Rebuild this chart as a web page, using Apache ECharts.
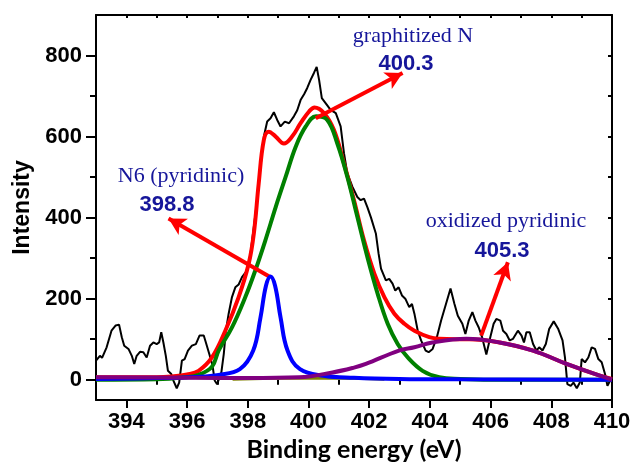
<!DOCTYPE html>
<html>
<head>
<meta charset="utf-8">
<script src="https://cdn.jsdelivr.net/npm/echarts@6/dist/echarts.min.js"></script>
<style>
  html, body { margin: 0; padding: 0; background: #fff; }
  #chart { width: 635px; height: 470px; }
</style>
</head>
<body>
<div id="chart"></div>
<script>
// raw spectrum (black), [binding energy, intensity]
var rawData = [
  [393.0,47],[393.13,59],[393.2,54],[393.35,80],[393.51,121],[393.65,134],[393.76,136],[393.85,105],
  [393.93,84],[394.07,76],[394.18,59],[394.26,39],[394.34,59],[394.45,69],[394.56,68],[394.67,55],
  [394.78,84],[394.89,92],[395.0,88],[395.08,92],[395.15,117],[395.22,92],[395.3,59],[395.37,22],
  [395.48,14],[395.55,-2],[395.66,-21],[395.74,-7],[395.83,47],[395.92,51],[396.03,72],[396.16,84],
  [396.29,88],[396.41,109],[396.55,109],[396.62,92],[396.73,64],[396.84,35],[396.91,-2],[396.99,-11],
  [397.04,-11],[397.13,18],[397.21,64],[397.28,121],[397.37,163],[397.48,204],[397.59,228],[397.7,235],
  [397.81,253],[397.98,270],[398.09,311],[398.2,377],[398.31,443],[398.42,525],[398.53,600],[398.64,637],
  [398.75,645],[398.86,660],[398.97,641],[399.08,625],[399.22,637],[399.36,633],[399.52,650],[399.63,665],
  [399.74,690],[399.86,705],[399.96,720],[400.07,740],[400.18,757],[400.27,772],[400.35,740],[400.44,695],
  [400.57,682],[400.73,666],[400.9,658],[401.06,625],[401.17,559],[401.28,509],[401.45,476],[401.61,451],
  [401.72,443],[401.83,447],[401.94,426],[402.06,400],[402.22,361],[402.31,311],[402.39,274],[402.55,245],
  [402.66,249],[402.77,237],[402.86,220],[402.97,228],[403.08,208],[403.19,200],[403.32,179],[403.41,187],
  [403.49,163],[403.6,121],[403.71,97],[403.86,72],[403.96,68],[404.09,76],[404.23,105],[404.37,146],
  [404.53,187],[404.68,225],[404.81,187],[404.92,158],[405.07,138],[405.17,113],[405.28,146],[405.4,167],
  [405.5,146],[405.61,129],[405.72,105],[405.86,62],[405.99,105],[406.1,138],[406.19,150],[406.32,146],
  [406.41,121],[406.52,113],[406.63,97],[406.74,101],[406.9,121],[407.02,109],[407.1,92],[407.18,117],
  [407.29,117],[407.4,88],[407.51,72],[407.6,80],[407.71,72],[407.82,88],[407.93,125],[408.08,144],
  [408.23,125],[408.37,97],[408.45,55],[408.53,-11],[408.64,-15],[408.73,-7],[408.84,-21],[408.94,-7],
  [409.0,51],[409.11,43],[409.22,55],[409.33,80],[409.44,76],[409.55,51],[409.66,43],[409.77,14],
  [409.85,-15],[409.94,-2]
];
// fitted envelope (red)
var envelopeData = [
  [393.0,6],[395.0,6],[395.5,8],[396.0,13],[396.38,22],[396.82,55],[397.26,121],[397.7,204],
  [398.03,286],[398.2,361],[398.36,484],[398.53,592],[398.69,612],[398.92,600],[399.19,583],[399.46,600],
  [399.74,633],[400.02,662],[400.2,672],[400.51,658],[400.84,616],[401.17,534],[401.5,443],[401.83,344],
  [402.17,262],[402.5,204],[402.83,163],[403.16,138],[403.49,121],[403.98,105],[404.31,101],[404.86,100],
  [405.3,100],[406.3,92],[407.4,72],[408.5,39],[409.6,10],[410.0,2]
];
// graphitized N (green)
var graphiticData = [
  [393.0,0],[395.0,1],[395.94,6],[396.38,12],[396.82,32],[397.04,72],[397.48,129],[397.92,204],
  [398.25,270],[398.58,344],[398.92,426],[399.25,501],[399.58,575],[399.91,625],[400.25,650],[400.62,641],
  [400.95,583],[401.28,501],[401.61,402],[401.94,303],[402.28,212],[402.61,138],[402.94,88],[403.27,55],
  [403.76,22],[404.31,6],[405.0,2],[406.0,0],[410.0,0]
];
// N6 pyridinic (blue)
var pyridinicData = [
  [393.0,2],[395.0,4],[396.3,7],[397.04,12],[397.74,26],[398.18,72],[398.42,154],[398.6,232],
  [398.75,255],[398.9,232],[399.08,154],[399.31,72],[399.72,26],[400.5,10],[401.5,5],[403.0,2],
  [405.0,1],[410.0,0]
];
// small component near baseline (olive)
var minorData = [
  [397.5,0],[398.5,2],[399.5,5],[400.5,5],[401.5,3],[402.5,0]
];
// oxidized pyridinic (purple)
var oxidizedData = [
  [393.0,6],[396.0,5],[398.0,4],[399.69,6],[400.79,18],[401.5,30],[401.89,39],[402.98,72],
  [403.49,80],[404.08,92],[405.2,101],[406.3,92],[407.4,72],[408.5,39],[409.6,10],[410.0,0]
];
// annotation arrows: [from, to] in data coords
var arrowData = [
  [[398.75,253],[395.39,398]],
  [[400.24,645],[403.1,757]],
  [[405.69,109],[406.57,290]]
];
var xLabelValues = [394,396,398,400,402,404,406,408,410];
var xMinorTicks = [393,395,397,399,401,403,405,407,409];
var xAllTicks = [393,394,395,396,397,398,399,400,401,402,403,404,405,406,407,408,409,410];
var yLabelValues = [0,200,400,600,800];
var yMinorTicks = [100,300,500,700];
var yAllTicks = [0,100,200,300,400,500,600,700,800];

var labelFont = {color:'#000', fontFamily:'Liberation Sans', fontWeight:'bold', fontSize:22};
var navy = '#16169a';

var myChart = echarts.init(document.getElementById('chart'), null, {renderer:'canvas'});

function fitLine(data, color, z) {
  return {
    type: 'line', data: data, showSymbol: false, smooth: 0.4, z: z,
    lineStyle: {color: color, width: 4}, silent: true, animation: false
  };
}

var olive = fitLine(minorData, '#808000', 2.5);
olive.lineStyle.width = 2;
olive.areaStyle = {color: '#808000', opacity: 1};

var option = {
  backgroundColor: '#fff',
  animation: false,
  grid: {left: 96, right: 23, top: 15, bottom: 70},
  xAxis: [{
      type: 'value', min: 393, max: 410, position: 'bottom',
      name: 'Binding energy (eV)', nameLocation: 'middle', nameGap: 36,
      nameTextStyle: {fontFamily: 'Lato', fontWeight: 'bold', fontSize: 25, color: '#000'},
      axisLine: {show: true, onZero: false, lineStyle: {color: '#000', width: 2}},
      axisTick: {show: true, customValues: xLabelValues, length: 8, lineStyle: {color: '#000', width: 2}},
      axisLabel: Object.assign({customValues: xLabelValues, margin: 11}, labelFont),
      splitLine: {show: false}
    }, {
      type: 'value', min: 393, max: 410, position: 'bottom',
      axisLine: {show: false},
      axisTick: {show: true, customValues: xMinorTicks, length: 5, lineStyle: {color: '#000', width: 2}},
      axisLabel: {show: false}, splitLine: {show: false}
    }, {
      type: 'value', min: 393, max: 410, position: 'top',
      axisLine: {show: true, onZero: false, lineStyle: {color: '#000', width: 2}},
      axisTick: {show: true, inside: true, customValues: xAllTicks, length: 3, lineStyle: {color: '#000', width: 2}},
      axisLabel: {show: false}, splitLine: {show: false}
  }],
  yAxis: [{
      type: 'value', min: -50, max: 900, position: 'left',
      name: 'Intensity', nameLocation: 'middle', nameGap: 62,
      nameTextStyle: {fontFamily: 'Liberation Sans', fontWeight: 'bold', fontSize: 23, color: '#000'},
      axisLine: {show: true, onZero: false, lineStyle: {color: '#000', width: 2}},
      axisTick: {show: true, customValues: yLabelValues, length: 10, lineStyle: {color: '#000', width: 2}},
      axisLabel: Object.assign({customValues: yLabelValues, margin: 14}, labelFont),
      splitLine: {show: false}
    }, {
      type: 'value', min: -50, max: 900, position: 'left',
      axisLine: {show: false},
      axisTick: {show: true, customValues: yMinorTicks, length: 6, lineStyle: {color: '#000', width: 2}},
      axisLabel: {show: false}, splitLine: {show: false}
    }, {
      type: 'value', min: -50, max: 900, position: 'right',
      axisLine: {show: true, onZero: false, lineStyle: {color: '#000', width: 2}},
      axisTick: {show: true, inside: true, customValues: yAllTicks, length: 4, lineStyle: {color: '#000', width: 2}},
      axisLabel: {show: false}, splitLine: {show: false}
  }],
  series: [
    {
      type: 'line', data: rawData, showSymbol: false, z: 2, silent: true,
      lineStyle: {color: '#000', width: 2}
    },
    olive,
    fitLine(envelopeData, '#ff0000', 3),
    fitLine(graphiticData, '#008000', 4),
    fitLine(pyridinicData, '#0000ff', 5),
    fitLine(oxidizedData, '#800080', 6),
    {
      type: 'line', data: [], z: 10, silent: true,
      markLine: {
        silent: true, animation: false,
        symbol: ['none', 'arrow'], symbolSize: [14, 17],
        label: {show: false},
        lineStyle: {color: '#ff0000', width: 4, type: 'solid'},
        data: arrowData.map(function(a){ return [{coord: a[0]}, {coord: a[1]}]; })
      }
    }
  ],
  graphic: [
    {type: 'text', x: 181, y: 176, z: 20, style: {text: 'N6 (pyridinic)', font: '22px "Liberation Serif"', fill: navy, align: 'center', verticalAlign: 'middle'}},
    {type: 'text', x: 167, y: 205, z: 20, style: {text: '398.8', font: 'bold 22px "Liberation Sans"', fill: navy, align: 'center', verticalAlign: 'middle'}},
    {type: 'text', x: 413, y: 36, z: 20, style: {text: 'graphitized N', font: '22px "Liberation Serif"', fill: navy, align: 'center', verticalAlign: 'middle'}},
    {type: 'text', x: 406, y: 64, z: 20, style: {text: '400.3', font: 'bold 22px "Liberation Sans"', fill: navy, align: 'center', verticalAlign: 'middle'}},
    {type: 'text', x: 506, y: 221, z: 20, style: {text: 'oxidized pyridinic', font: '22px "Liberation Serif"', fill: navy, align: 'center', verticalAlign: 'middle'}},
    {type: 'text', x: 502, y: 251, z: 20, style: {text: '405.3', font: 'bold 22px "Liberation Sans"', fill: navy, align: 'center', verticalAlign: 'middle'}}
  ]
};
myChart.setOption(option);
</script>
</body>
</html>
